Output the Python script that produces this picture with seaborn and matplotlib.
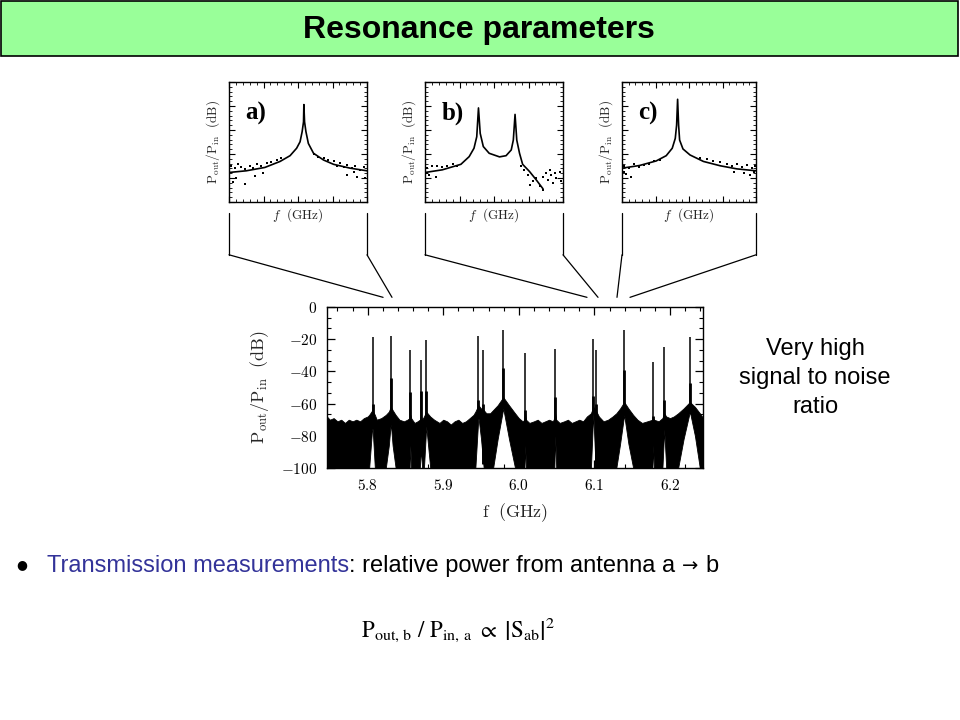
import numpy as np
import pandas as pd
import seaborn as sns
import matplotlib.pyplot as plt
from matplotlib.patches import Rectangle, ConnectionPatch
from matplotlib.lines import Line2D
from matplotlib.ticker import MultipleLocator, AutoMinorLocator, FuncFormatter

# ---- main spectrum ----
# resonance lines: frequency (GHz), top (dB), top of the thick lower part (dB)
peak_f = [5.8066, 5.8308, 5.8565, 5.8705, 5.8775, 5.9463, 5.9530, 5.9794,
          6.0085, 6.0482, 6.0985, 6.1016, 6.1394, 6.1778, 6.1924, 6.2263]
peak_top = [-18.6, -17.8, -27.0, -33.0, -20.7, -17.8, -26.6, -14.0,
            -28.5, -26.0, -20.0, -26.6, -14.2, -34.2, -25.0, -18.5]
peak_mid = [-60, -44, -53, -52, -52, -58, -60, -38,
            -64, -56, -55, -60, -39, -68, -58, -47]

# noise band: upper and lower envelope
band_f = [5.746, 5.750, 5.755, 5.760, 5.765, 5.770, 5.775, 5.780,
          5.785, 5.790, 5.795, 5.800, 5.802, 5.8063, 5.8095, 5.812,
          5.818, 5.824, 5.828, 5.8306, 5.833, 5.837, 5.842, 5.848,
          5.8525, 5.8555, 5.8565, 5.8575, 5.862, 5.866, 5.869, 5.8705,
          5.872, 5.8745, 5.8775, 5.8828, 5.888, 5.895, 5.900, 5.905,
          5.910, 5.915, 5.920, 5.925, 5.930, 5.935, 5.940, 5.9425,
          5.9465, 5.950, 5.9535, 5.957, 5.962, 5.966, 5.972, 5.9794,
          5.987, 5.995, 6.000, 6.005, 6.0075, 6.0085, 6.0095, 6.014,
          6.020, 6.025, 6.030, 6.035, 6.040, 6.045, 6.047, 6.0482,
          6.0495, 6.054, 6.060, 6.065, 6.070, 6.075, 6.080, 6.085,
          6.090, 6.0954, 6.0985, 6.1016, 6.106, 6.112, 6.118, 6.124,
          6.129, 6.134, 6.1394, 6.145, 6.1513, 6.157, 6.163, 6.170,
          6.1768, 6.1778, 6.1788, 6.185, 6.190, 6.1924, 6.195, 6.200,
          6.205, 6.2108, 6.218, 6.2263, 6.233, 6.2395, 6.244]
band_top = [-68, -70, -69, -71, -70, -72, -70, -71,
            -70, -71, -69, -68, -67, -64, -67, -70,
            -69, -67, -65, -62, -64, -67, -70, -71,
            -70, -69, -67, -69, -72, -71, -70, -68,
            -70, -68, -65, -68, -70, -72, -70, -71,
            -73, -71, -70, -72, -71, -69, -67, -65,
            -61, -63, -64, -66, -66, -64, -61, -56,
            -61, -66, -69, -71, -70, -66, -70, -72,
            -71, -70, -72, -71, -70, -71, -69, -66,
            -70, -72, -71, -70, -72, -71, -70, -71,
            -68, -66, -62, -64, -68, -71, -70, -68,
            -66, -63, -59, -63, -67, -70, -72, -71,
            -70, -69, -70, -71, -69, -66, -68, -69,
            -68, -66, -63, -59, -62, -66, -69]
band_bot = [-100, -100, -100, -100, -100, -100, -100, -100,
            -100, -100, -100, -100, -100, -73, -100, -100,
            -100, -100, -86, -72, -86, -100, -100, -100,
            -100, -100, -86, -100, -100, -100, -100, -88,
            -100, -100, -74, -100, -100, -100, -100, -100,
            -100, -100, -100, -100, -100, -100, -100, -100,
            -68, -82, -100, -100, -100, -100, -82, -63,
            -82, -100, -100, -100, -100, -86, -100, -100,
            -100, -100, -100, -100, -100, -100, -100, -80,
            -100, -100, -100, -100, -100, -100, -100, -100,
            -100, -100, -66, -100, -100, -100, -100, -100,
            -100, -85, -67, -85, -100, -100, -100, -100,
            -100, -86, -100, -100, -100, -76, -100, -100,
            -100, -100, -82, -65, -80, -100, -100]

# frequency windows shown in the three zoomed panels
zoom_lo = [5.8204, 6.0902, 6.1299]
zoom_hi = [5.8322, 6.1048, 6.1471]

# ---- zoomed panels (arbitrary units, no tick labels) ----
a_x = [0.0, 0.5, 1.04, 1.48, 1.77, 1.96, 2.06, 2.12, 2.16, 2.17, 2.19, 2.23, 2.30, 2.45, 2.74, 3.03, 3.51, 4.0]
a_y = [1.23, 1.30, 1.44, 1.69, 1.93, 2.24, 2.51, 2.93, 3.34, 4.06, 3.34, 2.93, 2.44, 2.03, 1.75, 1.57, 1.41, 1.30]
a_dx = [0.07, 0.17, 0.26, 0.36, 0.46, 0.60, 0.70, 0.80, 0.94, 1.09, 1.23, 1.38, 1.52, 0.21, 0.12, 0.46, 0.75, 0.99,
        2.45, 2.59, 2.74, 2.88, 3.03, 3.13, 3.22, 3.32, 3.42, 3.56, 3.66, 3.81, 3.90, 3.42, 3.71, 3.95, 3.61]
a_dy = [1.52, 1.41, 1.57, 1.46, 1.38, 1.52, 1.41, 1.57, 1.48, 1.62, 1.66, 1.77, 1.82, 0.99, 0.83, 0.75, 1.10, 1.20,
        1.99, 1.88, 1.82, 1.75, 1.69, 1.52, 1.62, 1.46, 1.55, 1.41, 1.52, 1.34, 1.44, 1.13, 1.06, 0.99, 1.24]

b_x = [0.0, 0.5, 1.04, 1.28, 1.42, 1.50, 1.55, 1.60, 1.69, 1.86, 2.16, 2.35, 2.50, 2.56, 2.61, 2.66, 2.74, 2.83,
       3.03, 3.22, 3.42]
b_y = [1.23, 1.34, 1.57, 1.89, 2.24, 2.72, 3.92, 2.86, 2.31, 2.03, 1.88, 1.93, 2.17, 2.58, 3.65, 2.58, 2.03, 1.57,
       1.27, 0.93, 0.55]
b_dx = [0.07, 0.21, 0.36, 0.50, 0.65, 0.80, 0.94, 0.12, 0.31, 0.07,
        2.79, 2.88, 2.98, 3.03, 3.13, 3.22, 3.32, 3.42, 3.51, 3.56, 3.66, 3.71, 3.81, 3.90, 3.95, 3.42, 3.61, 3.76]
b_dy = [1.41, 1.48, 1.52, 1.44, 1.52, 1.57, 1.49, 1.13, 1.06, 1.20,
        1.48, 1.34, 1.13, 0.72, 0.86, 0.99, 0.65, 1.06, 1.20, 0.93, 1.13, 0.79, 0.99, 1.27, 0.86, 0.51, 1.34, 1.20]

c_x = [0.0, 0.52, 1.02, 1.32, 1.50, 1.59, 1.63, 1.66, 1.69, 1.72, 1.82, 2.03, 2.43, 2.93, 3.43, 4.0]
c_y = [1.41, 1.52, 1.71, 1.93, 2.24, 2.65, 3.20, 4.28, 3.20, 2.58, 2.21, 1.96, 1.69, 1.51, 1.38, 1.30]
c_dx = [0.07, 0.22, 0.37, 0.52, 0.67, 0.82, 0.97, 1.12, 0.12, 0.27, 0.07,
        2.33, 2.53, 2.73, 2.93, 3.13, 3.28, 3.43, 3.58, 3.73, 3.88, 3.98, 3.33, 3.63, 3.83, 3.93]
c_dy = [1.52, 1.41, 1.57, 1.46, 1.55, 1.60, 1.69, 1.75, 1.16, 1.06, 1.24,
        1.85, 1.80, 1.71, 1.66, 1.57, 1.52, 1.60, 1.46, 1.55, 1.41, 1.49, 1.24, 1.20, 1.13, 1.27]

panel_names = ['a)', 'b)', 'c)']

sns.set_theme(style='ticks')
plt.rcParams['font.family'] = ['Liberation Sans', 'DejaVu Sans']
plt.rcParams['mathtext.fontset'] = 'cm'
plt.rcParams['xtick.direction'] = 'in'
plt.rcParams['ytick.direction'] = 'in'

fig = plt.figure(figsize=(9.6, 7.2), dpi=100)
fig.patch.set_facecolor('white')

# title bar
fig.add_artist(Rectangle((0.001, 1 - 56 / 720), 0.997, 56 / 720 - 0.002, transform=fig.transFigure,
                         facecolor='#99ff99', edgecolor='black', lw=1.2))
fig.text(0.499, 1 - 30 / 720, 'Resonance parameters', ha='center', va='center',
         fontsize=23, fontweight='bold', color='black')

# main spectrum
ax = fig.add_axes([327 / 960, 1 - 468 / 720, 376 / 960, 161 / 720])
ax.fill_between(band_f, band_bot, band_top, color='black', lw=0.6)
base = np.interp(peak_f, band_f, band_bot)
ax.vlines(peak_f, base, peak_mid, color='black', lw=2.0)
ax.vlines(peak_f, base, peak_top, color='black', lw=1.1)
ax.set_xlim(5.7462, 6.2437)
ax.set_ylim(-100, 0)
ax.xaxis.set_major_locator(MultipleLocator(0.1))
ax.xaxis.set_minor_locator(AutoMinorLocator(5))
ax.yaxis.set_major_locator(MultipleLocator(20))
ax.yaxis.set_minor_locator(AutoMinorLocator(3))
ax.xaxis.set_major_formatter(FuncFormatter(lambda v, p: f'${v:.1f}$'))
ax.yaxis.set_major_formatter(FuncFormatter(lambda v, p: f'${v:.0f}$'))
ax.tick_params(which='both', top=True, right=True, direction='in', colors='black', labelsize=11)
ax.tick_params(which='major', length=6, width=0.9, pad=7)
ax.tick_params(which='minor', length=3, width=0.8)
for s in ax.spines.values():
    s.set_color('black')
    s.set_linewidth(1.0)
ax.set_xlabel(r'$\mathrm{f}\ \ \mathrm{(GHz)}$', fontsize=13, labelpad=6)
ax.set_ylabel(r'$\mathrm{P_{out}/P_{in}}\ \ \mathrm{(dB)}$', fontsize=13, labelpad=7)

# zoomed panels
lefts = [229, 425, 622]
widths = [138, 138, 134]
curves = [(a_x, a_y, a_dx, a_dy), (b_x, b_y, b_dx, b_dy), (c_x, c_y, c_dx, c_dy)]
for i in range(3):
    x, y, dx, dy = curves[i]
    iax = fig.add_axes([lefts[i] / 960, 1 - 202 / 720, widths[i] / 960, 120 / 720])
    sns.scatterplot(x=dx, y=dy, ax=iax, color='black', s=3, marker='s', linewidth=0)
    sns.lineplot(x=x, y=y, ax=iax, color='black', lw=1.2, sort=False, estimator=None)
    iax.set_xlim(0, 4)
    iax.set_ylim(0, 5)
    iax.xaxis.set_major_locator(MultipleLocator(1))
    iax.xaxis.set_minor_locator(AutoMinorLocator(5))
    iax.yaxis.set_major_locator(MultipleLocator(1))
    iax.yaxis.set_minor_locator(AutoMinorLocator(5))
    iax.tick_params(which='both', top=True, right=True, direction='in', colors='black',
                    labelbottom=False, labelleft=False)
    iax.tick_params(which='major', length=4, width=0.8)
    iax.tick_params(which='minor', length=2, width=0.6)
    for s in iax.spines.values():
        s.set_color('black')
        s.set_linewidth(1.0)
    iax.set_xlabel(r'$\mathbf{\mathit{f}}\ \ \mathrm{(GHz)}$', fontsize=9.5, labelpad=3)
    iax.set_ylabel(r'$\mathrm{P_{out}/P_{in}}\ \ \mathrm{(dB)}$', fontsize=9.5, labelpad=5)
    iax.text(0.12, 0.74, panel_names[i], transform=iax.transAxes, family=['Liberation Serif'],
             fontsize=18, fontweight='bold', ha='left', va='center', color='black')

    # connector lines to the main spectrum
    for xa, f in [(0, zoom_lo[i]), (1, zoom_hi[i])]:
        iax.add_line(Line2D([xa, xa], [-0.09, -0.44], transform=iax.transAxes, color='black',
                            lw=0.9, clip_on=False))
        fig.add_artist(ConnectionPatch(xyA=(xa, -0.44), coordsA=iax.transAxes,
                                       xyB=(f, 6), coordsB=ax.transData, color='black', lw=0.9))

# side note
fig.text(815 / 960, 1 - 378 / 720, 'Very high\nsignal to noise\nratio', ha='center', va='center',
         fontsize=17, linespacing=1.4, color='black')

# bullet line
fig.text(22 / 960, 1 - 565 / 720, '\u25cf', ha='center', va='center', fontsize=9, color='black',
         family=['DejaVu Sans'])
t1 = fig.text(47 / 960, 1 - 566 / 720, 'Transmission measurements', ha='left', va='center',
              fontsize=17, color='#333399')
t2 = plt.Annotation(': relative power from antenna a ', xy=(1, 0), xycoords=t1,
                    ha='left', va='bottom', fontsize=17, color='black')
fig.add_artist(t2)
t3 = plt.Annotation('\u2192', xy=(1, 0.5), xycoords=t2, ha='left', va='center', fontsize=14,
                    color='black', family=['DejaVu Sans'])
fig.add_artist(t3)
fig.add_artist(plt.Annotation('b', xy=(1, 0), xycoords=t2, xytext=(17, 0), textcoords='offset points',
                              ha='left', va='bottom', fontsize=17, color='black'))

# formula
fig.text(458 / 960, 1 - 630 / 720, r'$\mathrm{P_{out,\,b}\ /\ P_{in,\,a}\ \propto\ \left|S_{ab}\right|^{2}}$',
         ha='center', va='center', fontsize=16.5, math_fontfamily='stix', color='black')

fig.savefig('out.png', dpi=100, facecolor='white')
